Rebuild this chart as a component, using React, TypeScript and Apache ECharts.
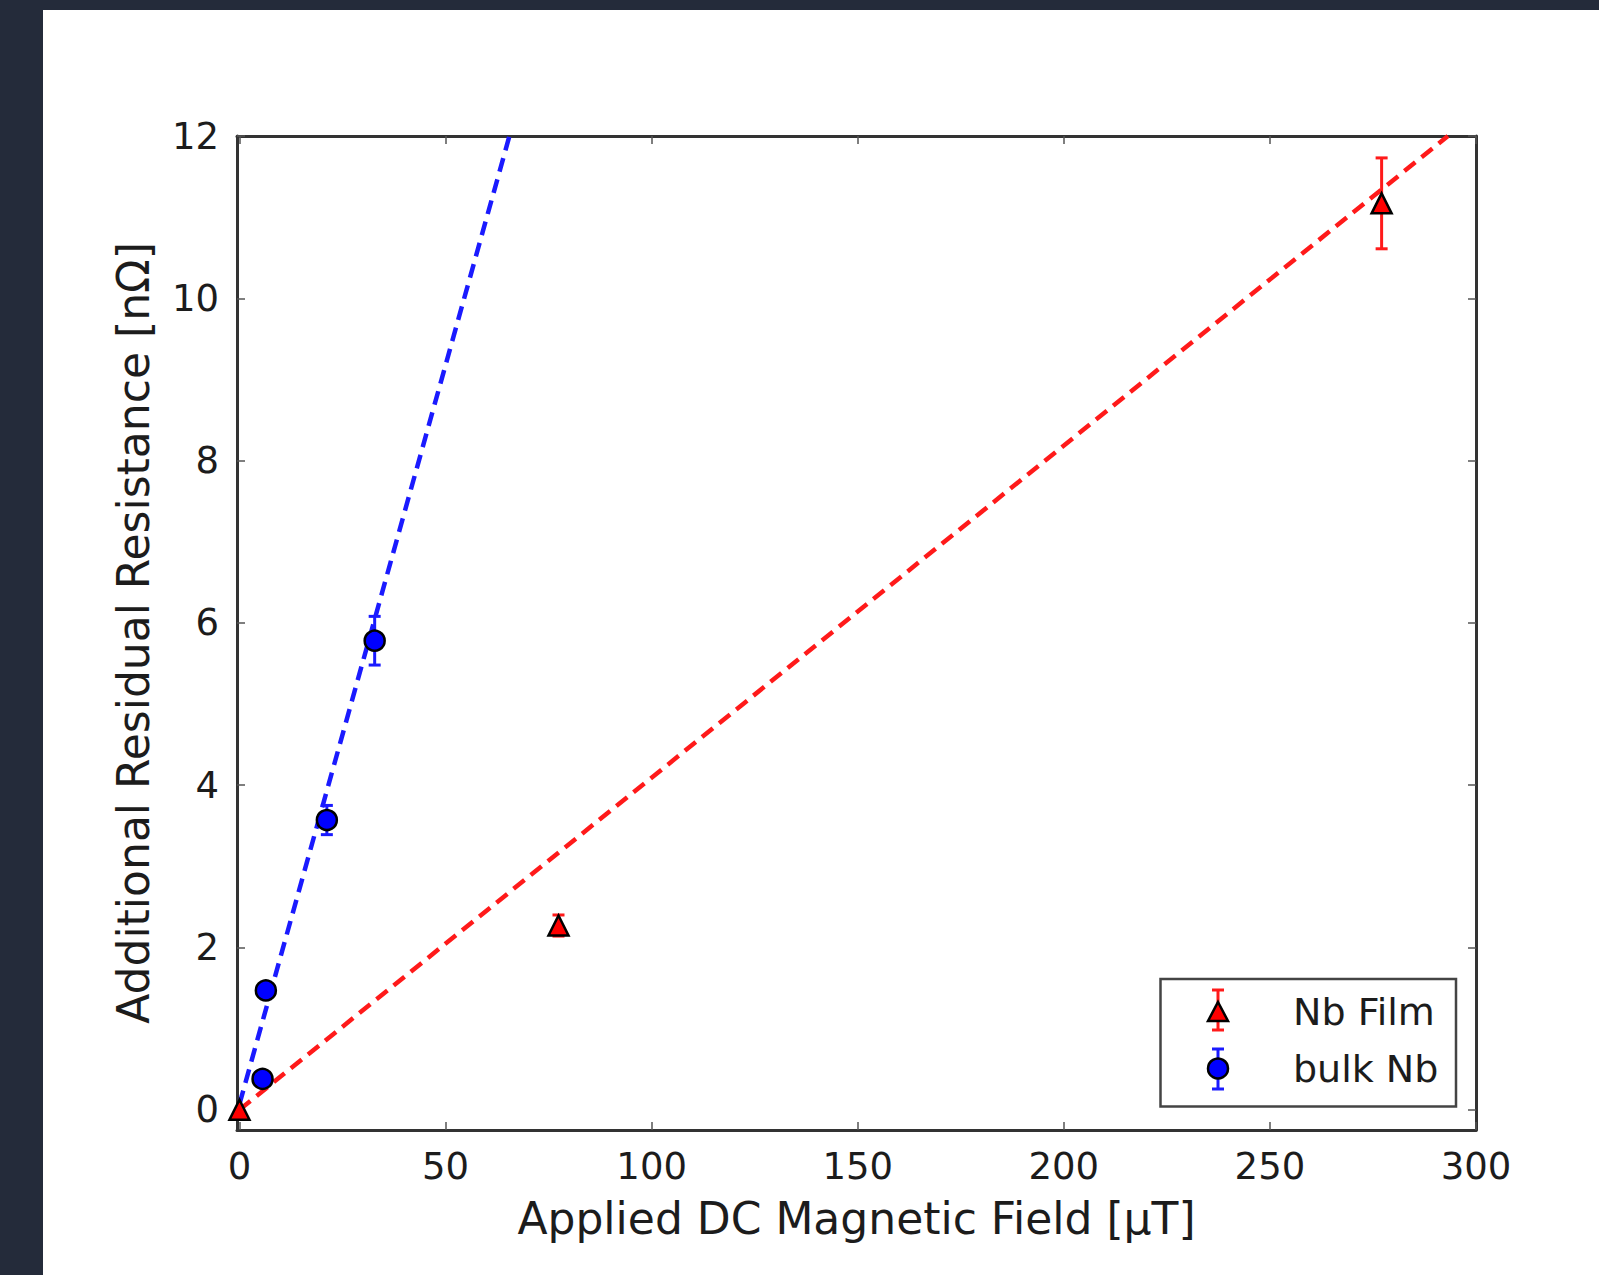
import React, { useEffect, useRef } from "react";
import * as echarts from "echarts";

const xTicks = [0, 50, 100, 150, 200, 250, 300];
const yTicks = [0, 2, 4, 6, 8, 10, 12];

const filmX = [0, 77.4, 277.1];
const filmY = [0, 2.27, 11.17];
const filmErr = [0.05, 0.13, 0.56];

const bulkX = [5.6, 6.4, 21.2, 32.8];
const bulkY = [0.38, 1.47, 3.57, 5.78];
const bulkErr = [0.08, 0.1, 0.18, 0.3];

const filmFitX = [0, 293.2];
const filmFitY = [0, 12];
const bulkFitX = [0, 65.5];
const bulkFitY = [0.07, 12];

const RED = "#ff1a1a";
const BLUE = "#1a1aff";
const FRAME = "#333333";
const TEXT = "#1c1c1c";
const FONT = "DejaVu Sans";

function errorBars(color: string, xs: number[], ys: number[], es: number[], z: number) {
  return {
    type: "custom",
    clip: true,
    z,
    data: xs.map((x, i) => [x, ys[i], es[i]]),
    renderItem: (_p: any, api: any) => {
      const x = api.value(0);
      const y = api.value(1);
      const e = api.value(2);
      const t = api.coord([x, y + e]);
      const b = api.coord([x, y - e]);
      const c = 6;
      const st = { stroke: color, lineWidth: 3 };
      return {
        type: "group",
        children: [
          { type: "line", shape: { x1: t[0], y1: t[1], x2: b[0], y2: b[1] }, style: st },
          { type: "line", shape: { x1: t[0] - c, y1: t[1], x2: t[0] + c, y2: t[1] }, style: st },
          { type: "line", shape: { x1: b[0] - c, y1: b[1], x2: b[0] + c, y2: b[1] }, style: st },
        ],
      };
    },
  };
}

function axisCommon(extra: any) {
  return {
    axisLine: { show: true, onZero: false, lineStyle: { color: FRAME, width: 3 } },
    axisTick: { show: true, inside: true, length: 8, lineStyle: { color: "#555", width: 1.5 } },
    splitLine: { show: false },
    ...extra,
  };
}

export default function App() {
  const ref = useRef<HTMLDivElement>(null);
  useEffect(() => {
    document.body.style.margin = "0";
    document.body.style.overflow = "hidden";
    const chart = echarts.init(ref.current!, undefined, { renderer: "svg" });
    const legendX = 1175;
    const option: any = {
      animation: false,
      backgroundColor: "#ffffff",
      grid: { left: 194, top: 126, width: 1239, height: 994, containLabel: false },
      xAxis: [
        axisCommon({
          type: "value",
          min: -0.6,
          max: 300,
          position: "bottom",
          name: "Applied DC Magnetic Field [μT]",
          nameLocation: "middle",
          nameGap: 66,
          nameTextStyle: { fontFamily: FONT, fontSize: 44, color: TEXT },
          axisTick: { show: true, inside: true, length: 8, customValues: xTicks, lineStyle: { color: "#555", width: 1.5 } },
          axisLabel: { customValues: xTicks, fontFamily: FONT, fontSize: 37, color: TEXT, margin: 18 },
        }),
        axisCommon({
          type: "value",
          min: -0.6,
          max: 300,
          position: "top",
          axisTick: { show: true, inside: true, length: 8, customValues: xTicks, lineStyle: { color: "#555", width: 1.5 } },
          axisLabel: { show: false },
        }),
      ],
      yAxis: [
        axisCommon({
          type: "value",
          min: -0.25,
          max: 12,
          position: "left",
          name: "Additional Residual Resistance [nΩ]",
          nameLocation: "middle",
          nameGap: 82,
          nameTextStyle: { fontFamily: FONT, fontSize: 44, color: TEXT },
          axisTick: { show: true, inside: true, length: 8, customValues: yTicks, lineStyle: { color: "#555", width: 1.5 } },
          axisLabel: { customValues: yTicks, fontFamily: FONT, fontSize: 37, color: TEXT, margin: 18 },
        }),
        axisCommon({
          type: "value",
          min: -0.25,
          max: 12,
          position: "right",
          axisTick: { show: true, inside: true, length: 8, customValues: yTicks, lineStyle: { color: "#555", width: 1.5 } },
          axisLabel: { show: false },
        }),
      ],
      series: [
        {
          type: "line",
          z: 2,
          clip: true,
          symbol: "none",
          data: filmFitX.map((x, i) => [x, filmFitY[i]]),
          lineStyle: { color: RED, width: 4.5, type: [14, 8] },
        },
        {
          type: "line",
          z: 2,
          clip: true,
          symbol: "none",
          data: bulkFitX.map((x, i) => [x, bulkFitY[i]]),
          lineStyle: { color: BLUE, width: 4.5, type: [14, 8] },
        },
        errorBars(RED, filmX, filmY, filmErr, 3),
        {
          type: "scatter",
          z: 4,
          clip: true,
          symbol: "triangle",
          symbolSize: 20,
          data: filmX.map((x, i) => [x, filmY[i]]),
          itemStyle: { color: "#ff0000", borderColor: "#000", borderWidth: 2.5, opacity: 1 },
        },
        errorBars(BLUE, bulkX, bulkY, bulkErr, 5),
        {
          type: "scatter",
          z: 6,
          clip: true,
          symbol: "circle",
          symbolSize: 20,
          data: bulkX.map((x, i) => [x, bulkY[i]]),
          itemStyle: { color: "#0000ff", borderColor: "#000", borderWidth: 2.5, opacity: 1 },
        },
      ],
      graphic: [
        {
          type: "rect",
          z: 100,
          shape: { x: 1117.5, y: 969, width: 295.5, height: 127.5 },
          style: { fill: "#fff", stroke: "#444", lineWidth: 2.5 },
        },
        { type: "line", z: 101, shape: { x1: legendX, y1: 980, x2: legendX, y2: 1020 }, style: { stroke: RED, lineWidth: 3 } },
        { type: "line", z: 101, shape: { x1: legendX - 6, y1: 980, x2: legendX + 6, y2: 980 }, style: { stroke: RED, lineWidth: 3 } },
        { type: "line", z: 101, shape: { x1: legendX - 6, y1: 1020, x2: legendX + 6, y2: 1020 }, style: { stroke: RED, lineWidth: 3 } },
        {
          type: "polygon",
          z: 102,
          shape: { points: [[legendX, 992], [legendX + 10, 1011], [legendX - 10, 1011]] },
          style: { fill: "#ff0000", stroke: "#000", lineWidth: 2.5 },
        },
        { type: "line", z: 101, shape: { x1: legendX, y1: 1039, x2: legendX, y2: 1079 }, style: { stroke: BLUE, lineWidth: 3 } },
        { type: "line", z: 101, shape: { x1: legendX - 6, y1: 1039, x2: legendX + 6, y2: 1039 }, style: { stroke: BLUE, lineWidth: 3 } },
        { type: "line", z: 101, shape: { x1: legendX - 6, y1: 1079, x2: legendX + 6, y2: 1079 }, style: { stroke: BLUE, lineWidth: 3 } },
        {
          type: "circle",
          z: 102,
          shape: { cx: legendX, cy: 1058.5, r: 10 },
          style: { fill: "#0000ff", stroke: "#000", lineWidth: 2.5 },
        },
        {
          type: "text",
          z: 102,
          x: 1250,
          y: 1001.5,
          style: { text: "Nb Film", fontFamily: FONT, fontSize: 38, fill: TEXT, verticalAlign: "middle", align: "left" },
        },
        {
          type: "text",
          z: 102,
          x: 1250,
          y: 1058.5,
          style: { text: "bulk Nb", fontFamily: FONT, fontSize: 38, fill: TEXT, verticalAlign: "middle", align: "left" },
        },
      ],
    };
    chart.setOption(option);
    return () => chart.dispose();
  }, []);
  return (
    <div style={{ position: "relative", width: 1599, height: 1275, background: "#242b3a", overflow: "hidden" }}>
      <div ref={ref} style={{ position: "absolute", left: 43, top: 10, width: 1556, height: 1265 }} />
    </div>
  );
}
